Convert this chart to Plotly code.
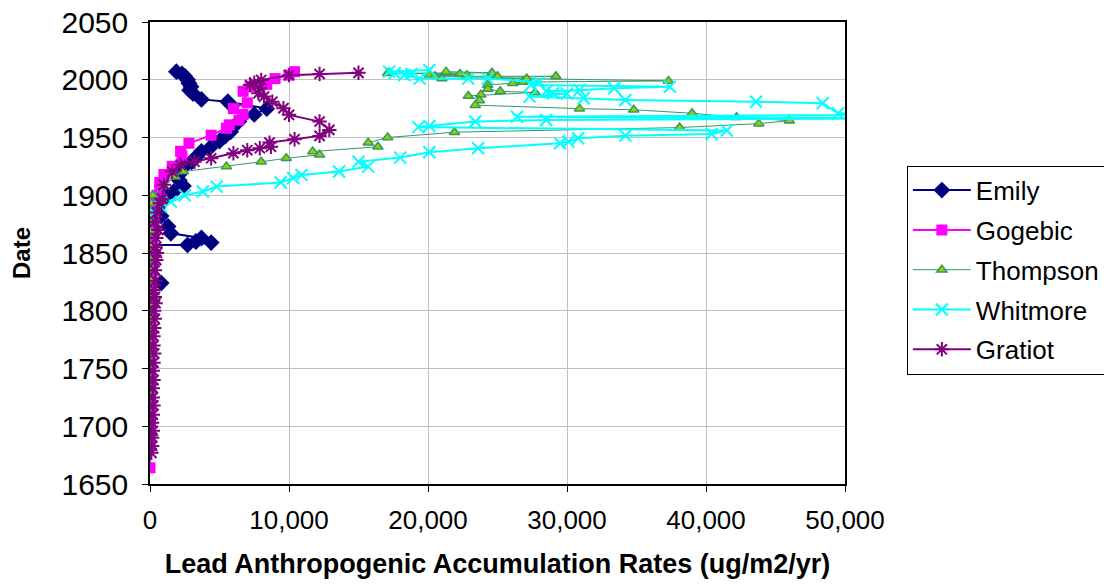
import plotly.graph_objects as go

# ---- data ----
emily_date = [2007, 2005, 2003, 2000, 1997, 1994, 1991, 1988, 1983, 1981, 1975, 1970, 1964, 1958, 1955,
              1951, 1947, 1941, 1938, 1933, 1929, 1924, 1918, 1913, 1908, 1903, 1900, 1895, 1890, 1886,
              1882, 1873, 1867, 1863, 1860, 1859, 1857, 1857, 1848, 1840, 1832, 1824, 1815, 1805, 1795]
emily_val = [1900, 2300, 2500, 2700, 2800, 2950, 2850, 3100, 3700, 5600, 8400, 7500, 6400, 5900, 5800,
             5400, 5000, 4300, 3700, 3300, 3000, 2400, 2100, 2100, 2400, 1700, 1200, 900, 600, 400,
             800, 1300, 1500, 3700, 3300, 4400, 2700, 100, 100, 50, 100, 800, 50, 30, 20]

gogebic_date = [2007, 2004, 2001, 1996, 1994, 1990, 1980, 1975, 1970, 1965, 1961, 1958, 1952, 1945,
                1938, 1934, 1925, 1918, 1911, 1905, 1900, 1895, 1890, 1885, 1880, 1875, 1870, 1865,
                1860, 1855, 1850, 1845, 1840, 1835, 1830, 1825, 1820, 1815, 1810, 1805, 1800, 1795,
                1790, 1785, 1780, 1775, 1770, 1765, 1760, 1755, 1750, 1745, 1740, 1735, 1730, 1725,
                1720, 1715, 1710, 1705, 1700, 1695, 1690, 1685, 1664]
gogebic_val = [10400, 10000, 9000, 8400, 7200, 6700, 7000, 6000, 6700, 6400, 5700, 5500, 4400, 2800,
               2200, 2300, 1600, 1000, 700, 700, 500, 400, 350, 300, 300, 250, 250, 200,
               200, 150, 150, 150, 100, 150, 100, 100, 100, 80, 80, 100, 80, 80, 60, 60, 80,
               60, 50, 60, 50, 40, 50, 40, 30, 40, 30, 30, 20, 30, 20, 20, 20, 10, 10, 10, 0]

thompson_date = [2007, 2006, 2005.6, 2005, 2004, 2004, 2003, 2003, 2003, 2001, 2001, 1999, 1998, 1997,
                 1995.5, 1992, 1990, 1989, 1987, 1986, 1982, 1978, 1975, 1974, 1971, 1967.5, 1964.6,
                 1962, 1958.6, 1954.6, 1950, 1945.5, 1942, 1937.8, 1935, 1932, 1929, 1925, 1920.5,
                 1916, 1907.5, 1900, 1893, 1886, 1878, 1869, 1856, 1845, 1837, 1827, 1818, 1806, 1794,
                 1785, 1772, 1760, 1750, 1740, 1730, 1720]
thompson_val = [21300, 24600, 17100, 22300, 20100, 22800, 20500, 25000, 29200, 21000, 27100, 37300,
                26800, 26100, 24300, 24300, 25200, 27700, 23800, 22900, 23700, 23400, 30900, 34800,
                39000, 42200, 46000, 43800, 38100, 21900, 17100, 15700, 16400, 11700, 12200, 9800,
                8000, 5500, 2400, 1800, 1000, 200, 100, 50, 100, 0, 80, 60, 80, 70, 60, 50, 60, 40,
                30, 30, 20, 20, 10, 10]

whitmore_date = [2008.5, 2007, 2005.6, 2005, 2004, 2001, 2001, 2001, 1998, 1995.5, 1994, 1992.6, 1991,
                 1990, 1988.3, 1988, 1985.4, 1984, 1982.5, 1981, 1979.7, 1971, 1970, 1968, 1966.5,
                 1965.2, 1963.8, 1960, 1959, 1956, 1953, 1951.6, 1949.4, 1946.4, 1945, 1940.7, 1937.3,
                 1932.6, 1929, 1924.8, 1920.5, 1917.6, 1915, 1911, 1907.5, 1903.3, 1900, 1894.5, 1890,
                 1886, 1882]
whitmore_val = [20100, 17200, 17600, 18800, 18300, 19400, 22900, 24300, 28000, 27400, 37400, 33400,
                30900, 28500, 29000, 30000, 27300, 31200, 34200, 43600, 48400, 49500, 58000, 26400,
                56000, 28500, 23400, 20100, 19300, 41500, 40400, 34200, 30800, 30100, 29500, 23600,
                20100, 18000, 15000, 15700, 13600, 10900, 10300, 9400, 4800, 3800, 2500, 1500, 800,
                200, 0]

gratiot_date = [2006, 2005, 2004, 1999.8, 1997.5, 1995.5, 1992.7, 1988.3, 1985.4, 1981, 1975.4, 1969.6,
                1963.8, 1956.6, 1951.4, 1948.5, 1945.6, 1942, 1940.7, 1939, 1936.4, 1932, 1929, 1926.3,
                1920.5, 1909, 1897, 1893, 1885, 1877, 1870, 1863, 1855, 1850, 1844, 1835, 1826, 1818,
                1812, 1806.6, 1800, 1793, 1785, 1778, 1770, 1763, 1755, 1748, 1740, 1733, 1725, 1718,
                1710, 1703, 1696, 1690, 1683, 1677]
gratiot_val = [15000, 12200, 10000, 8000, 7500, 7200, 7900, 7800, 8200, 8800, 9600, 10000, 12200, 12900,
               12200, 10400, 8600, 8700, 7900, 7000, 6000, 4400, 3200, 2200, 1600, 1000, 900, 700, 500,
               350, 600, 450, 400, 500, 450, 350, 400, 300, 350, 400, 300, 350, 300, 250, 250, 300,
               250, 200, 250, 200, 200, 250, 200, 150, 200, 150, 150, 100]

FONT = "Liberation Sans, Arial, sans-serif"

fig = go.Figure()
fig.add_trace(go.Scatter(x=emily_val, y=emily_date, name="Emily", mode="lines+markers",
                         legendgroup="a",
                         line=dict(color="#000080", width=2),
                         marker=dict(symbol="diamond", size=13, color="#000080")))
fig.add_trace(go.Scatter(x=gogebic_val, y=gogebic_date, name="Gogebic", mode="lines+markers",
                         legendgroup="b",
                         line=dict(color="#FF00FF", width=2),
                         marker=dict(symbol="square", size=11, color="#FF00FF")))
fig.add_trace(go.Scatter(x=thompson_val, y=thompson_date, name="Thompson", mode="lines+markers",
                         legendgroup="c",
                         line=dict(color="#339966", width=1),
                         marker=dict(symbol="triangle-up", size=9, color="#99CC00",
                                     line=dict(color="#339966", width=1.5))))
fig.add_trace(go.Scatter(x=whitmore_val, y=whitmore_date, name="Whitmore", mode="lines+markers",
                         legendgroup="d",
                         line=dict(color="#00FFFF", width=2),
                         marker=dict(symbol="x-thin", size=12, color="#00FFFF",
                                     line=dict(color="#00FFFF", width=2))))
fig.add_trace(go.Scatter(x=gratiot_val, y=gratiot_date, name="Gratiot", mode="lines+markers",
                         legendgroup="e",
                         line=dict(color="#800080", width=2),
                         marker=dict(symbol="asterisk", size=12, color="#800080",
                                     line=dict(color="#800080", width=2))))

fig.update_layout(
    width=1104, height=588,
    margin=dict(l=150, r=259, t=22, b=104, autoexpand=False),
    paper_bgcolor="white", plot_bgcolor="white",
    font=dict(family=FONT, color="black"),
    showlegend=True,
    legend=dict(x=1.089, y=0.689, xanchor="left", yanchor="top",
                bordercolor="black", borderwidth=1, bgcolor="white",
                font=dict(family=FONT, size=26, color="black"),
                itemwidth=58, tracegroupgap=3),
    xaxis=dict(range=[0, 50000], dtick=10000, tick0=0, tickformat=",",
               automargin=False,
               showgrid=True, gridcolor="#C0C0C0", gridwidth=1,
               showline=True, linecolor="black", linewidth=1.5, mirror=True,
               ticks="outside", ticklen=6, tickcolor="black",
               tickfont=dict(family=FONT, size=26), ticklabelstandoff=6,
               zeroline=False,
               title=dict(text="<b>Lead Anthropogenic Accumulation Rates (ug/m2/yr)</b>",
                          font=dict(family=FONT, size=27), standoff=20)),
    yaxis=dict(range=[1650, 2050], dtick=50, tick0=1650,
               automargin=False,
               showgrid=True, gridcolor="#C0C0C0", gridwidth=1,
               showline=True, linecolor="black", linewidth=1.5, mirror=True,
               ticks="outside", ticklen=6, tickcolor="black",
               tickfont=dict(family=FONT, size=30), ticklabelstandoff=8,
               zeroline=False,
               title=dict(text="<b>Date</b>", font=dict(family=FONT, size=24), standoff=24)),
)

fig.write_html("out.html")
